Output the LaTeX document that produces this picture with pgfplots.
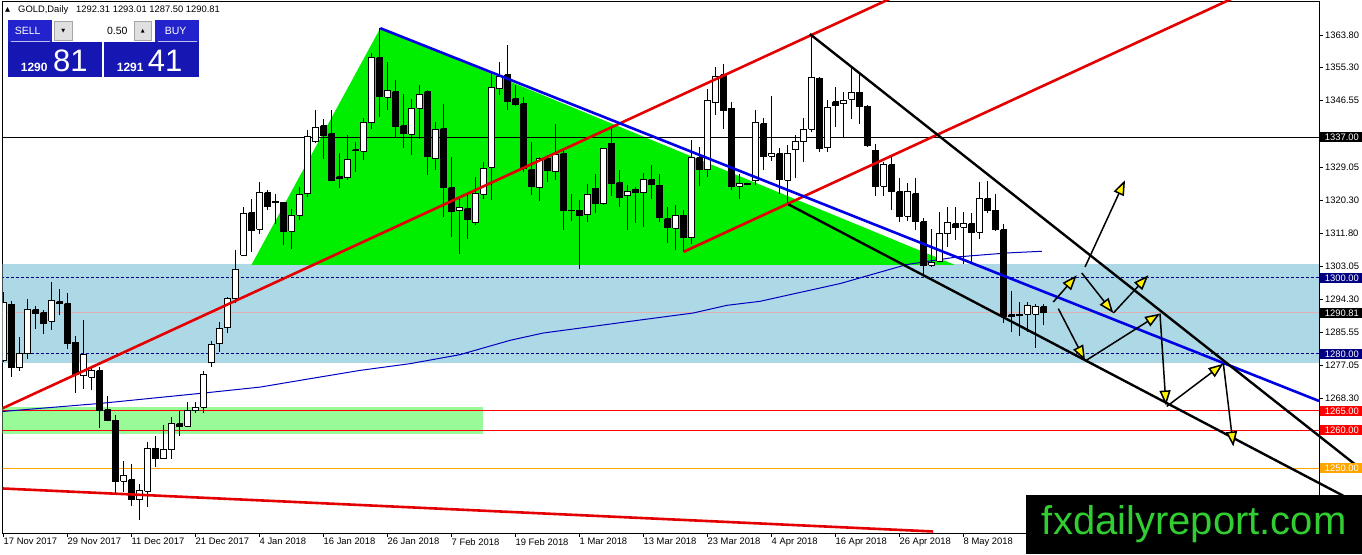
\documentclass[border=0pt]{standalone}
\usepackage{pgfplots}
\pgfplotsset{compat=1.18}
\usepackage{pgfplotstable}
\usepackage{fontspec}
\setmainfont{Liberation Sans}
\newfontfamily\dejavu{DejaVu Sans}
\usetikzlibrary{arrows.meta}
\definecolor{bandblue}{RGB}{173,216,230}
\definecolor{bandgreen}{RGB}{152,251,152}
\definecolor{trigreen}{RGB}{0,238,0}
\definecolor{tlblue}{RGB}{0,0,230}
\definecolor{mablue}{RGB}{0,0,190}
\definecolor{tlred}{RGB}{228,0,0}
\definecolor{navyc}{RGB}{0,0,128}
\definecolor{lvlorange}{RGB}{255,165,0}
\definecolor{bidline}{RGB}{225,175,175}
\definecolor{btnblue}{RGB}{35,35,205}
\definecolor{btnblue2}{RGB}{22,22,178}
\definecolor{wmgreen}{RGB}{50,205,50}
\newcommand\tfont{\fontsize{9.4}{11}\selectfont}

\pgfplotstableread{
i o h l c
0 1278.3 1296.2 1277.8 1293.5
1 1293.0 1293.9 1274.0 1276.3
2 1276.3 1284.4 1275.6 1280.0
3 1280.0 1294.5 1278.7 1291.6
4 1291.6 1292.7 1286.6 1290.5
5 1290.8 1291.4 1285.1 1287.9
6 1288.5 1298.9 1286.3 1293.9
7 1293.7 1297.0 1290.1 1293.2
8 1293.2 1296.1 1281.3 1282.8
9 1283.1 1284.8 1269.7 1274.5
10 1274.3 1288.8 1270.8 1279.8
11 1273.9 1276.5 1270.4 1275.6
12 1275.6 1276.5 1260.5 1265.1
13 1265.3 1268.8 1262.3 1262.5
14 1262.6 1263.8 1243.2 1246.5
15 1246.5 1251.9 1243.6 1248.0
16 1246.9 1251.1 1240.1 1241.6
17 1241.6 1245.8 1236.3 1244.1
18 1243.9 1256.8 1239.7 1255.0
19 1255.2 1258.5 1250.2 1252.4
20 1252.4 1261.4 1252.4 1254.8
21 1254.8 1263.4 1252.4 1261.6
22 1261.6 1265.1 1258.5 1261.0
23 1261.0 1267.3 1260.7 1265.1
24 1265.0 1267.3 1264.4 1266.0
25 1266.0 1275.6 1264.4 1274.5
26 1277.6 1283.5 1276.5 1282.4
27 1282.7 1288.4 1280.6 1286.6
28 1286.9 1294.9 1285.5 1294.5
29 1294.5 1307.2 1293.4 1302.1
30 1305.9 1318.6 1305.6 1316.9
31 1317.1 1320.8 1306.8 1312.5
32 1312.7 1325.2 1311.6 1322.4
33 1322.4 1323.0 1317.9 1318.8
34 1320.1 1322.1 1314.2 1319.7
35 1319.8 1319.9 1308.5 1312.2
36 1312.2 1318.2 1307.6 1316.3
37 1316.4 1323.9 1315.1 1321.9
38 1322.1 1338.8 1321.3 1337.0
39 1335.7 1344.2 1335.3 1339.5
40 1339.9 1341.6 1331.3 1337.5
41 1337.9 1344.1 1325.6 1325.6
42 1326.5 1332.7 1323.5 1326.1
43 1326.3 1337.5 1325.8 1331.1
44 1333.6 1335.7 1327.8 1333.4
45 1333.3 1341.9 1330.9 1340.8
46 1340.8 1359.0 1339.2 1357.9
47 1357.8 1365.6 1342.3 1347.7
48 1347.4 1356.8 1344.1 1349.3
49 1348.9 1351.9 1337.0 1339.7
50 1339.9 1348.3 1334.0 1337.9
51 1337.7 1347.1 1332.2 1344.5
52 1344.5 1350.6 1336.6 1348.2
53 1348.9 1349.3 1326.9 1331.8
54 1331.3 1341.0 1328.3 1339.0
55 1339.2 1345.6 1316.0 1323.6
56 1323.7 1331.8 1310.7 1317.5
57 1317.6 1321.3 1306.3 1318.4
58 1318.2 1322.1 1310.3 1315.4
59 1314.5 1326.5 1313.8 1322.1
60 1321.9 1330.5 1320.8 1328.7
61 1329.0 1353.7 1320.4 1349.9
62 1349.7 1356.8 1348.0 1352.8
63 1353.3 1361.2 1344.1 1346.3
64 1347.1 1350.6 1345.1 1345.6
65 1345.8 1347.6 1327.8 1328.7
66 1328.4 1335.7 1321.7 1323.9
67 1323.7 1331.8 1320.2 1331.3
68 1331.3 1332.2 1325.2 1328.1
69 1327.8 1340.3 1325.6 1332.5
70 1332.6 1334.0 1312.6 1317.7
71 1317.7 1322.1 1314.9 1317.6
72 1317.7 1320.5 1302.4 1316.3
73 1316.6 1324.7 1314.7 1321.9
74 1323.5 1327.2 1316.9 1319.4
75 1319.5 1334.2 1319.2 1333.9
76 1335.3 1339.8 1321.5 1324.9
77 1325.0 1328.3 1318.6 1321.2
78 1321.6 1324.3 1312.5 1322.8
79 1323.2 1323.9 1314.4 1322.3
80 1322.4 1327.6 1313.3 1325.7
81 1325.8 1329.6 1320.8 1324.5
82 1324.3 1327.4 1314.7 1315.8
83 1315.5 1318.6 1309.1 1313.1
84 1313.0 1319.0 1307.2 1316.4
85 1316.4 1317.7 1306.8 1310.5
86 1310.5 1336.1 1308.9 1331.6
87 1331.6 1334.4 1324.0 1328.4
88 1328.4 1349.5 1326.5 1346.7
89 1346.0 1355.4 1342.7 1353.0
90 1353.3 1356.3 1339.0 1344.0
91 1344.5 1346.2 1323.0 1324.1
92 1324.1 1327.4 1320.8 1324.7
93 1324.6 1324.8 1324.4 1324.7
94 1325.5 1344.2 1324.3 1340.8
95 1340.5 1341.9 1328.3 1332.0
96 1332.0 1347.7 1330.7 1332.6
97 1332.6 1334.2 1322.1 1325.9
98 1325.6 1334.8 1319.5 1332.6
99 1333.7 1337.5 1326.2 1335.7
100 1335.7 1341.9 1330.4 1339.0
101 1339.0 1364.0 1338.3 1352.6
102 1352.4 1352.8 1333.1 1334.1
103 1334.2 1346.7 1333.1 1344.8
104 1346.2 1350.2 1339.7 1345.4
105 1345.8 1348.9 1337.0 1346.7
106 1346.9 1355.5 1341.6 1348.7
107 1348.7 1353.9 1340.4 1344.9
108 1345.1 1345.4 1334.4 1334.8
109 1333.5 1335.1 1321.5 1324.1
110 1324.1 1330.4 1321.5 1329.7
111 1329.7 1331.8 1317.9 1322.6
112 1322.6 1326.1 1314.7 1316.0
113 1316.2 1324.8 1314.9 1322.8
114 1322.1 1326.1 1312.5 1314.7
115 1314.7 1315.8 1301.1 1303.3
116 1303.3 1312.9 1302.8 1304.1
117 1304.4 1317.3 1304.1 1311.6
118 1311.6 1318.6 1308.1 1314.4
119 1314.2 1318.6 1310.0 1313.3
120 1313.3 1317.3 1303.7 1314.2
121 1314.2 1316.9 1303.7 1312.0
122 1312.0 1325.2 1310.3 1320.8
123 1320.8 1325.5 1316.9 1317.6
124 1317.7 1322.1 1312.3 1312.6
125 1312.6 1314.2 1288.1 1289.7
126 1290.3 1296.4 1285.7 1289.9
127 1290.4 1293.6 1284.6 1290.1
128 1290.4 1293.6 1285.7 1292.7
129 1290.4 1293.2 1281.6 1292.5
130 1292.31 1293.01 1287.50 1290.81
}\ohlc

\begin{document}
\begin{tikzpicture}
\useasboundingbox (-2.7pt,-21pt) rectangle (1359.3pt,533pt);
\begin{axis}[
  at={(0pt,0pt)}, anchor=south west,
  scale only axis, width=1316.3pt, height=532pt,
  xmin=-0.1, xmax=164.44, ymin=1232.9, ymax=1372.75,
  axis line style={black, line width=0.8pt},
  xtick={0,8,...,120},
  xticklabels={17 Nov 2017,29 Nov 2017,11 Dec 2017,21 Dec 2017,4 Jan 2018,16 Jan 2018,26 Jan 2018,7 Feb 2018,19 Feb 2018,1 Mar 2018,13 Mar 2018,23 Mar 2018,4 Apr 2018,16 Apr 2018,26 Apr 2018,8 May 2018},
  ytick={1363.80,1355.30,1346.55,1329.05,1320.30,1311.80,1303.05,1294.30,1285.55,1277.05,1268.30},
  xtick pos=bottom, ytick pos=right, yticklabel pos=right,
  tick align=outside, major tick length=4pt,
  tick style={black, line width=0.6pt},
  scaled y ticks=false,
  /pgf/number format/assume math mode=true,
  yticklabel style={/pgf/number format/fixed, /pgf/number format/fixed zerofill, /pgf/number format/precision=2, /pgf/number format/1000 sep={}, anchor=west, inner sep=0pt, xshift=2pt},
  xticklabel style={anchor=north west, inner sep=0pt, yshift=-1pt},
  tick label style={font=\tfont},
]
% bands
\addplot[fill=bandblue, draw=none] coordinates {(-1,1277.67) (170,1277.67) (170,1303.53) (-1,1303.53)};
\addplot[fill=bandgreen, draw=none] coordinates {(-1,1258.9) (59.9,1258.9) (59.9,1265.93) (-1,1265.93)};
% triangle
\addplot[fill=trigreen, draw=none] coordinates {(31.0,1303.4) (47.1,1365.6) (118.9,1303.4)};
% horizontal levels
\addplot[black, line width=0.8pt] coordinates {(-1,1337) (170,1337)};
\addplot[navyc, line width=0.8pt, dash pattern=on 3pt off 2pt] coordinates {(-1,1300) (170,1300)};
\addplot[navyc, line width=0.8pt, dash pattern=on 3pt off 2pt] coordinates {(-1,1280) (170,1280)};
\addplot[bidline, line width=0.8pt] coordinates {(-1,1290.81) (170,1290.81)};
\addplot[red, line width=0.8pt] coordinates {(-1,1265) (170,1265)};
\addplot[red, line width=0.8pt] coordinates {(-1,1260) (170,1260)};
\addplot[lvlorange, line width=0.8pt] coordinates {(-1,1250) (170,1250)};
% moving average
\addplot[mablue, line width=1pt] coordinates {(-0.1,1264.85) (12.06,1266.96) (24.56,1269.59) (32.06,1271.25) (38.31,1273.46) (44.56,1275.64) (50.81,1277.41) (57.06,1279.78) (63.31,1283.54) (67.44,1285.46) (73.69,1287.22) (79.94,1288.99) (86.19,1290.72) (90.44,1292.75) (94.56,1293.80) (104.56,1298.46) (112.9,1303.46) (119.15,1305.46) (125.4,1306.51) (129.8,1306.96)};
% candles
\pgfplotsinvokeforeach{0,...,130}{
  \pgfplotstablegetelem{#1}{o}\of\ohlc\let\cO\pgfplotsretval
  \pgfplotstablegetelem{#1}{h}\of\ohlc\let\cH\pgfplotsretval
  \pgfplotstablegetelem{#1}{l}\of\ohlc\let\cL\pgfplotsretval
  \pgfplotstablegetelem{#1}{c}\of\ohlc\let\cC\pgfplotsretval
  \pgfmathsetmacro\xa{#1-0.36}
  \pgfmathsetmacro\xb{#1+0.36}
  \ifdim\cC pt<\cO pt \def\F{black}\else\def\F{white}\fi
  \edef\cmd{\noexpand\addplot[black, line width=1pt, forget plot] coordinates {(#1,\cL) (#1,\cH)};
    \noexpand\addplot[draw=black, fill=\F, line width=1pt, forget plot] coordinates {(\xa,\cO) (\xb,\cO) (\xb,\cC) (\xa,\cC) (\xa,\cO)};}
  \cmd
}
\end{axis}
% overlay: trend lines and arrows (black lines run over the price scale)
\begin{axis}[
  at={(0pt,0pt)}, anchor=south west,
  scale only axis, width=1359.3pt, height=532pt,
  xmin=-0.1, xmax=169.8125, ymin=1232.9, ymax=1372.75,
  hide axis,
]
\addplot[tlred, line width=2.6pt] coordinates {(-0.1,1265.7) (112,1374.5)};
\addplot[tlred, line width=2.6pt] coordinates {(85.0,1306.8) (154,1373.8)};
\addplot[tlred, line width=2.6pt] coordinates {(-0.1,1244.6) (116.2,1233.3)};
\addplot[tlblue, line width=2.6pt] coordinates {(47.1,1365.6) (164.44,1267.6)};
\addplot[black, line width=2.4pt] coordinates {(100.8,1364.06) (169.81,1249.5)};
\addplot[black, line width=2.4pt] coordinates {(98.1,1319.3) (169.81,1240.1)};
\pgfplotsset{arr/.style={black, line width=1.5pt, -{Triangle[length=15pt, width=11pt, fill=yellow]}}}
\addplot[arr] coordinates {(131.22,1293.62) (134.15,1300.64)};
\addplot[arr] coordinates {(135.19,1302.83) (140.19,1325.64)};
\addplot[arr] coordinates {(134.78,1301.25) (138.73,1290.72)};
\addplot[arr] coordinates {(138.73,1290.72) (143.1,1300.64)};
\addplot[arr] coordinates {(131.85,1291.88) (135.19,1278.27)};
\addplot[arr] coordinates {(135.19,1278.09) (144.56,1290.56)};
\addplot[arr] coordinates {(144.56,1290.56) (145.31,1266.43)};
\addplot[arr] coordinates {(145.4,1266.17) (152.48,1277.41)};
\addplot[arr] coordinates {(152.48,1277.41) (153.73,1255.64)};
\end{axis}
% price boxes on the scale
\tikzset{pbox/.style={anchor=west, inner xsep=0pt, inner ysep=1.6pt, text width=42.3pt, align=left, text height=6.8pt, text depth=0pt, font=\tfont, text=white}}
\node[pbox, fill=black] at (1317pt,396.0pt) {\hspace*{5pt}1337.00};
\node[pbox, fill=navyc] at (1317pt,255.25pt) {\hspace*{5pt}1300.00};
\node[pbox, fill=black] at (1317pt,220.3pt) {\hspace*{5pt}1290.81};
\node[pbox, fill=navyc] at (1317pt,179.2pt) {\hspace*{5pt}1280.00};
\node[pbox, fill=red] at (1317pt,122.1pt) {\hspace*{5pt}1265.00};
\node[pbox, fill=red] at (1317pt,103.1pt) {\hspace*{5pt}1260.00};
\node[pbox, fill=lvlorange] at (1317pt,65.05pt) {\hspace*{5pt}1250.00};
% watermark
\fill[black] (1023.3pt,38pt) rectangle (1359.3pt,-21pt);
\node[anchor=base west, inner sep=0pt, text=wmgreen, font=\fontsize{40}{44}\selectfont] at (1039pt,-1.3pt) {fxdailyreport.com};
% header
\node[anchor=base west, inner sep=0pt, font=\dejavu\fontsize{6.5}{7}\selectfont] at (2.3pt,521pt) {▲};
\node[anchor=base west, inner sep=0pt, font=\tfont] at (15.3pt,520.5pt) {GOLD,Daily};
\node[anchor=base west, inner sep=0pt, font=\tfont] at (73.3pt,520.5pt) {1292.31 1293.01 1287.50 1290.81};
% one-click trading panel
\fill[btnblue] (5.3pt,513pt) rectangle (49.3pt,491pt);
\fill[btnblue] (152.3pt,513pt) rectangle (196.3pt,491pt);
\fill[btnblue2] (5.3pt,491pt) rectangle (99.3pt,456pt);
\fill[btnblue2] (101.3pt,491pt) rectangle (196.3pt,456pt);
\draw[white!70!btnblue, line width=0.6pt] (8pt,491.5pt) -- (47pt,491.5pt);
\draw[white!70!btnblue, line width=0.6pt] (155pt,491.5pt) -- (194pt,491.5pt);
\fill[white] (51.3pt,512pt) rectangle (149.3pt,492pt);
\filldraw[fill=black!12, draw=black!35, line width=0.6pt] (51.8pt,511.5pt) rectangle (69.3pt,492.5pt);
\filldraw[fill=black!12, draw=black!35, line width=0.6pt] (131.3pt,511.5pt) rectangle (148.8pt,492.5pt);
\node[font=\dejavu\fontsize{5}{6}\selectfont] at (60.5pt,502pt) {▼};
\node[font=\dejavu\fontsize{5}{6}\selectfont] at (140pt,502pt) {▲};
\node[anchor=east, inner sep=0pt, font=\fontsize{10.5}{12}\selectfont] at (125pt,502pt) {0.50};
\node[text=white, inner sep=0pt, font=\fontsize{10.5}{12}\selectfont] at (25pt,502pt) {SELL};
\node[text=white, inner sep=0pt, font=\fontsize{10.5}{12}\selectfont] at (173pt,502pt) {BUY};
\node[anchor=base west, inner sep=0pt, text=white, font=\bfseries\fontsize{12}{14}\selectfont] at (18pt,461pt) {1290};
\node[anchor=base west, inner sep=0pt, text=white, font=\fontsize{31}{34}\selectfont] at (50.3pt,461pt) {81};
\node[anchor=base west, inner sep=0pt, text=white, font=\bfseries\fontsize{12}{14}\selectfont] at (114pt,461pt) {1291};
\node[anchor=base west, inner sep=0pt, text=white, font=\fontsize{31}{34}\selectfont] at (145pt,461pt) {41};
\end{tikzpicture}
\end{document}
